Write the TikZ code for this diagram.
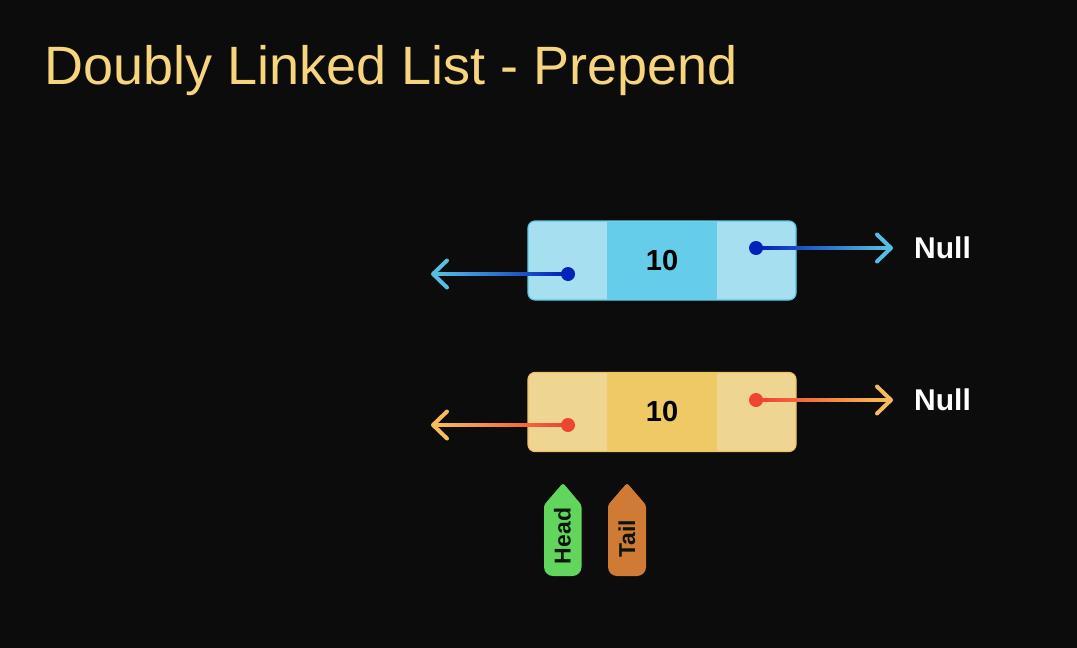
\documentclass[tikz,border=0pt]{standalone}
\usepackage{fontspec}
\setmainfont{Liberation Sans}
\usetikzlibrary{arrows.meta,calc}
\definecolor{bgdark}{HTML}{0C0C0C}
\definecolor{titlecol}{HTML}{F6D57C}
\definecolor{bluelight}{HTML}{A6E0F0}
\definecolor{bluemid}{HTML}{65CDE9}
\definecolor{blueedge}{HTML}{5CC6E2}
\definecolor{bluedot}{HTML}{0322B8}
\definecolor{bluetip}{HTML}{56BEE2}
\definecolor{yellight}{HTML}{EFD592}
\definecolor{yelmid}{HTML}{EFC966}
\definecolor{yeledge}{HTML}{F0C264}
\definecolor{reddot}{HTML}{EE4530}
\definecolor{yeltip}{HTML}{F6BC5C}
\definecolor{taggreen}{HTML}{62D65C}
\definecolor{tagorange}{HTML}{CF7A35}
\tikzset{
  x=1pt,y=-1pt,
  boxouter/.style={draw=#1,line width=1.2pt,rounded corners=7pt,minimum width=268pt,minimum height=79pt,inner sep=0pt},
  boxmid/.style={fill=#1,minimum width=110pt,minimum height=78pt,inner sep=0pt,font=\fontsize{29}{29}\selectfont\bfseries,text=black!90!bgdark},
  dotnode/.style={circle,fill=#1,minimum size=14pt,inner sep=0pt},
  ptr/.style={draw=#1,line width=3pt,-{Straight Barb[length=14pt,width=27pt,line width=4pt,round]}},
  nulltext/.style={text=white,font=\fontsize{30}{30}\selectfont\bfseries,inner sep=0pt},
  tagtext/.style={rotate=90,text=black!90!taggreen,font=\fontsize{23}{23}\selectfont\bfseries,inner sep=0pt},
  tagshape/.style={fill=#1},
}
\begin{document}
\begin{tikzpicture}
\useasboundingbox (0,0) rectangle (1077,648);
\fill[bgdark] (0,0) rectangle (1077,648);
\node[anchor=base west,inner sep=0pt,text=titlecol,font=\fontsize{54}{54}\selectfont] (title) at (44,84) {Doubly Linked List - Prepend};

% top node
\node[boxouter=blueedge,fill=bluelight] (top) at (662,260.5) {};
\node[boxmid=bluemid] (topval) at (662,260.5) {\raisebox{-1pt}{10}};
\node[dotnode=bluedot] (topprev) at (568,274) {};
\node[dotnode=bluedot] (topnext) at (756,248) {};
\coordinate (topprevend) at (431,274);
\coordinate (topnextend) at (893,248);
\draw[ptr=bluetip] (topprev) -- (topprevend);
\draw[ptr=bluetip] (topnext) -- (topnextend);
\shade[left color=bluetip,middle color=bluedot!70!bluetip,right color=bluedot] ($(topprevend)+(6,-1.5)$) rectangle ($(topprev)+(-6,1.5)$);
\shade[left color=bluedot,middle color=bluedot!70!bluetip,right color=bluetip] ($(topnext)+(6,-1.5)$) rectangle ($(topnextend)+(-6,1.5)$);
\node[nulltext,anchor=west] (topnull) at (914,248) {Null};

% bottom node
\node[boxouter=yeledge,fill=yellight] (bot) at (662,412) {};
\node[boxmid=yelmid] (botval) at (662,412) {\raisebox{-1pt}{10}};
\node[dotnode=reddot] (botprev) at (568,425) {};
\node[dotnode=reddot] (botnext) at (756,400) {};
\coordinate (botprevend) at (431,425);
\coordinate (botnextend) at (893,400);
\draw[ptr=yeltip] (botprev) -- (botprevend);
\draw[ptr=yeltip] (botnext) -- (botnextend);
\shade[left color=yeltip,middle color=reddot!70!yeltip,right color=reddot] ($(botprevend)+(6,-1.5)$) rectangle ($(botprev)+(-6,1.5)$);
\shade[left color=reddot,middle color=reddot!70!yeltip,right color=yeltip] ($(botnext)+(6,-1.5)$) rectangle ($(botnextend)+(-6,1.5)$);
\node[nulltext,anchor=west] (botnull) at (914,400) {Null};

% pointers
\path[tagshape=taggreen] (544,540) [rounded corners=2.5pt] -- (544,505) -- (563,483) -- (581.5,505) -- (581.5,540) [rounded corners=9pt] -- (581.5,576) -- (544,576) -- cycle;
\path[tagshape=tagorange] (608,540) [rounded corners=2.5pt] -- (608,505) -- (627,483) -- (646,505) -- (646,540) [rounded corners=9pt] -- (646,576) -- (608,576) -- cycle;
\node[tagtext] (head) at (562.5,536) {Head};
\node[tagtext] (tail) at (627,539) {Tail};
\end{tikzpicture}
\end{document}
